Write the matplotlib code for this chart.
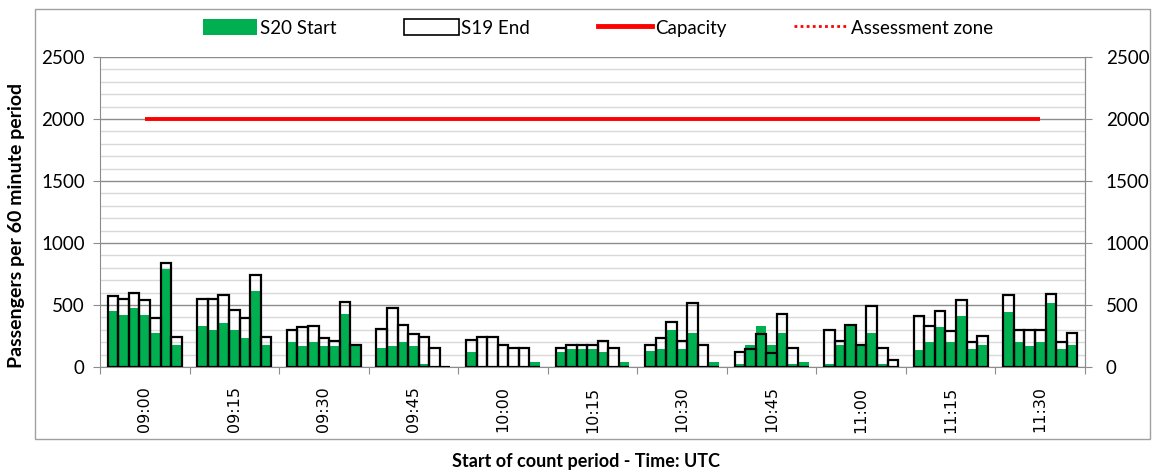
import matplotlib
matplotlib.use("Agg")
import matplotlib.pyplot as plt
import numpy as np
from matplotlib.patches import Rectangle
from matplotlib.lines import Line2D

groups = ["09:00", "09:15", "09:30", "09:45", "10:00", "10:15", "10:30", "10:45", "11:00", "11:15", "11:30"]

s20_start = [
    [451, 418, 478, 418, 273, 794, 175],
    [329, 297, 356, 297, 232, 616, 175],
    [202, 170, 202, 170, 170, 427, 178],
    [151, 170, 202, 170, 22, 0, 0],
    [124, 0, 0, 0, 0, 0, 38],
    [124, 148, 148, 148, 124, 0, 38],
    [127, 148, 302, 148, 278, 0, 38],
    [22, 175, 329, 175, 278, 22, 38],
    [22, 175, 335, 175, 278, 22, 0],
    [138, 202, 324, 202, 413, 143, 175],
    [440, 202, 170, 202, 516, 143, 175],
]
s19_end = [
    [570, 545, 597, 540, 394, 840, 240],
    [551, 545, 583, 462, 394, 745, 240],
    [300, 319, 329, 235, 208, 524, 178],
    [308, 472, 335, 270, 243, 151, 0],
    [219, 243, 243, 178, 151, 151, 0],
    [154, 178, 178, 178, 213, 151, 0],
    [178, 235, 359, 208, 516, 178, 0],
    [119, 148, 270, 116, 427, 151, 0],
    [297, 211, 335, 175, 489, 151, 59],
    [413, 327, 448, 292, 540, 205, 248],
    [580, 302, 302, 302, 589, 205, 278],
]
capacity = [2000] * len(groups)
assessment_zone = []

plt.rcParams['font.family'] = ['Lato', 'DejaVu Sans']

fig = plt.figure(figsize=(11.54, 4.73), dpi=100)
ax = fig.add_axes([100/1154, 1-367/473, 985/1154, 310/473])

green = "#00b050"
nb = 7
bw = 10.57/89.6
off = (1 - nb*bw)/2
for g in range(len(groups)):
    xs = [g + off + (i+0.5)*bw for i in range(nb)]
    ax.bar(xs, s20_start[g], width=bw, color=green, edgecolor='none', zorder=3,
           label="S20 Start" if g == 0 else None)
    ax.bar(xs, s19_end[g], width=bw, facecolor='none', edgecolor='black', linewidth=1.6, zorder=4,
           label="S19 End" if g == 0 else None)

centers = np.arange(len(groups)) + 0.5
ax.plot(centers, capacity, color='#ff0000', lw=2.8, zorder=5, solid_capstyle='butt')

ax.set_xlim(0, len(groups))
ax.set_ylim(0, 2500)
ax.set_yticks(np.arange(0, 2501, 500))
ax.set_yticks(np.arange(0, 2501, 100), minor=True)
ax.grid(axis='y', which='minor', color='#d9d9d9', lw=1.0, zorder=0)
ax.grid(axis='y', which='major', color='#8c8c8c', lw=1.0, zorder=1)
ax.set_xticks(np.arange(0, len(groups)+1))
ax.set_xticklabels([])
ax.set_xticks(centers, minor=True)
ax.set_xticklabels(groups, minor=True, rotation=90, family='DejaVu Sans', fontsize=11.5)
ax.tick_params(axis='x', which='minor', length=0, pad=14)
ax.tick_params(axis='x', which='major', length=5, color='#8c8c8c')
ax.tick_params(axis='y', which='minor', length=0)
ax.tick_params(axis='y', which='major', length=5, color='#8c8c8c', labelsize=13.5, pad=6)
ax.spines['top'].set_visible(False)
for s in ['left', 'right', 'bottom']:
    ax.spines[s].set_color('#8c8c8c')

ax2 = ax.twinx()
ax2.set_ylim(0, 2500)
ax2.set_yticks(np.arange(0, 2501, 500))
ax2.tick_params(axis='y', length=5, color='#8c8c8c', labelsize=13.5, pad=10)
for s in ['top', 'left', 'bottom']:
    ax2.spines[s].set_visible(False)
ax2.spines['right'].set_color('#8c8c8c')

fig.text(17/1154, 1-225/473, "Passengers per 60 minute period", rotation=90, fontsize=14,
         fontweight='bold', ha='center', va='center')
fig.text(586/1154, 1-461/473, "Start of count period - Time: UTC", fontsize=13,
         fontweight='bold', ha='center', va='center')

handles = [
    Rectangle((0, 0), 1, 1, facecolor=green, edgecolor='none'),
    Rectangle((0, 0), 1, 1, facecolor='white', edgecolor='black', lw=1.2),
    Line2D([], [], color='#ff0000', lw=3.5),
    Line2D([], [], color='#ff0000', lw=2, linestyle=(0, (1, 1.2))),
]
labels = ["S20 Start", "S19 End", "Capacity", "Assessment zone"]
fig.legend(handles, labels, loc='center', bbox_to_anchor=(598/1154, 1-28/473), ncol=4, frameon=False,
           fontsize=13.5, handlelength=2.9, handletextpad=0.15, columnspacing=3.6, handleheight=0.9,
           borderpad=0, borderaxespad=0)

fig.patches.append(Rectangle((35/1154, 1-439/473), 1115/1154, 430/473, transform=fig.transFigure,
                             fill=False, edgecolor='#a0a0a0', lw=1.0))

fig.savefig("out.png", dpi=100)
